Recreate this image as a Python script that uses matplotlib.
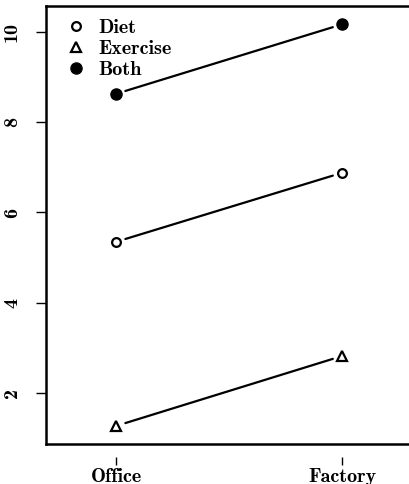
import matplotlib
matplotlib.use("Agg")
import matplotlib.pyplot as plt

# data
workplace = ["Office", "Factory"]
diet = [5.35, 6.88]
exercise = [1.27, 2.82]
both = [8.63, 10.17]

yticks = [2, 4, 6, 8, 10]

FONT = "cmb10"
FS = 14.5

fig = plt.figure(figsize=(4.09, 4.84), dpi=100)
ax = fig.add_axes([46 / 409, 40 / 484, 1 - 46 / 409, 438 / 484])

xpos = [1, 2]
series = [
    ("Diet", diet, dict(marker="o", mfc="white", mec="black", ms=6.3, mew=1.6)),
    ("Exercise", exercise, dict(marker="^", mfc="white", mec="black", ms=7, mew=1.6)),
    ("Both", both, dict(marker="o", mfc="black", mec="black", ms=8, mew=1)),
]

for name, vals, style in series:
    ax.plot(xpos, vals, linestyle="none", label=name, **style)
    # connecting segment with a gap around the points (R type="b")
    ax.annotate("", xy=(xpos[1], vals[1]), xytext=(xpos[0], vals[0]),
                arrowprops=dict(arrowstyle="-", lw=1.6, color="black",
                                shrinkA=7, shrinkB=7))

ax.set_xlim(0.69, 2.296)
ax.set_ylim(0.87, 10.576)

ax.spines["right"].set_visible(False)
for s in ["left", "top"]:
    ax.spines[s].set_linewidth(1.8)
# x ticks detached from the box, like R's axis
ax.spines["bottom"].set_position(("outward", 9))
ax.spines["bottom"].set_visible(False)
ax.axhline(0.87, color="black", lw=1.8, clip_on=False)

ax.set_xticks(xpos)
ax.set_xticklabels(workplace, fontfamily=FONT, fontsize=FS)
ax.set_yticks(yticks)
ax.set_yticklabels([str(t) for t in yticks], fontfamily=FONT, fontsize=FS,
                   rotation=90, va="center")
ax.tick_params(axis="x", direction="out", length=6, width=1, pad=2)
ax.tick_params(axis="y", direction="out", length=7, width=1, pad=11)

leg = ax.legend(loc="upper left", bbox_to_anchor=(0.03, 1.0), frameon=False,
                prop=dict(family=FONT, size=FS), handlelength=0.6,
                handletextpad=0.8, labelspacing=0.15, borderaxespad=0.25)

fig.savefig("out.png", dpi=100)
